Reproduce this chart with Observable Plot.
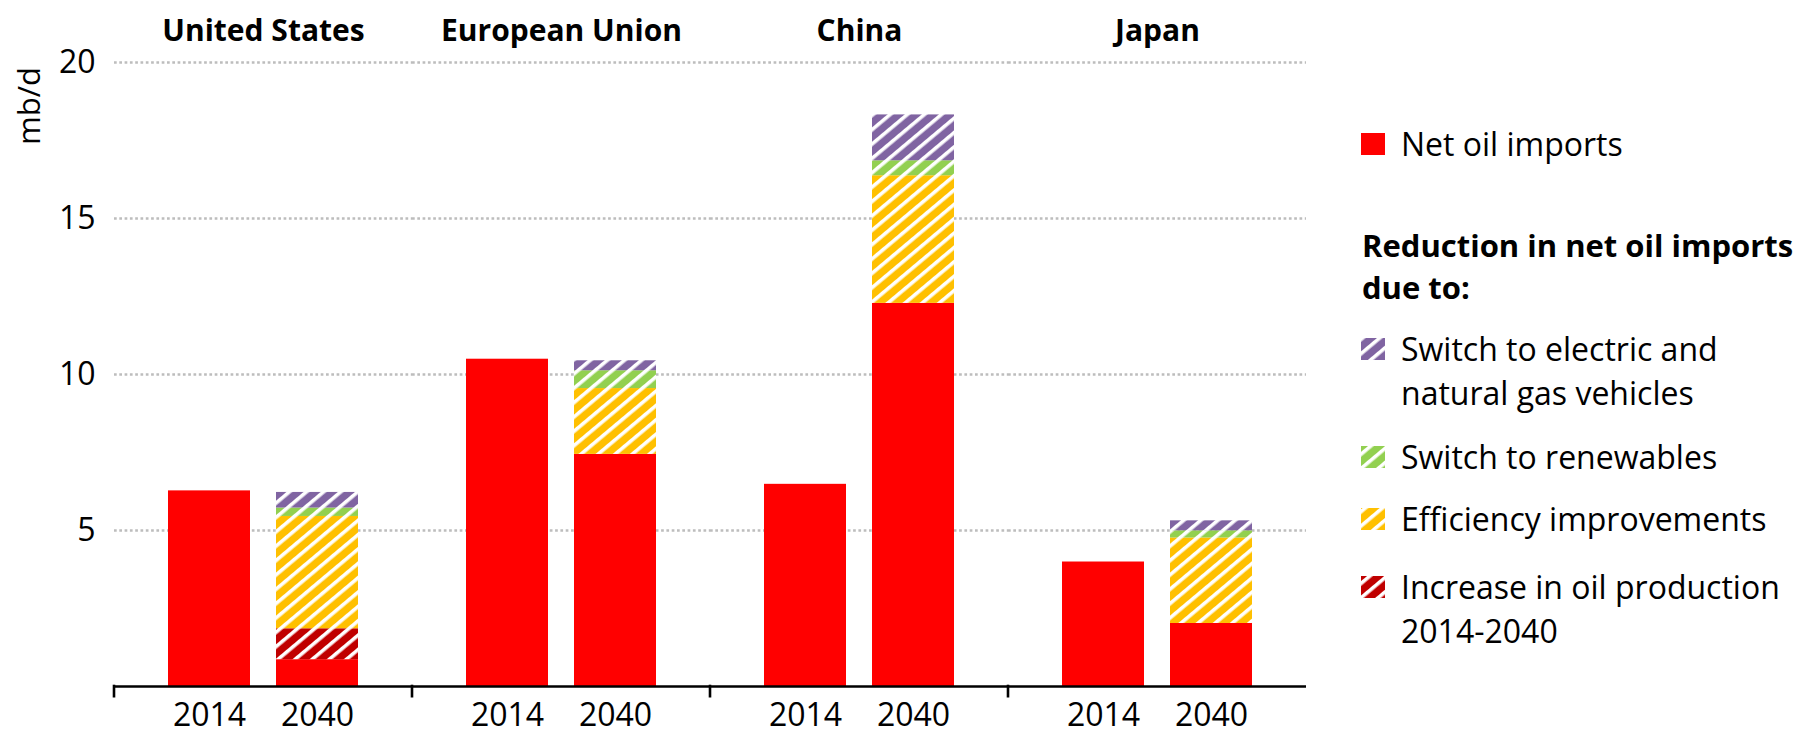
<!DOCTYPE html>
<html>
<head>
<meta charset="utf-8">
<script src="https://cdn.jsdelivr.net/npm/d3@7"></script>
<script src="https://cdn.jsdelivr.net/npm/@observablehq/plot@0.6"></script>
<style>
  html, body { margin: 0; padding: 0; background: #fff; }
  #wrap { position: relative; width: 1796px; height: 734px; overflow: hidden; }
  #chart { position: absolute; left: 0; top: 0; }
  #legend { position: absolute; left: 0; top: 0; }
</style>
</head>
<body>
<svg width="0" height="0" style="position:absolute" id="defs"></svg>
<div id="wrap"><div id="chart"></div><svg id="legend" width="1796" height="734" style="pointer-events:none"></svg></div>
<script>
// ---- data ----
const countries = ["United States", "European Union", "China", "Japan"];
const years = ["2014", "2040"];
const components = [
  "Net oil imports",
  "Increase in oil production 2014-2040",
  "Efficiency improvements",
  "Switch to renewables",
  "Switch to electric and natural gas vehicles"
];
const netImports2014 = [6.27, 10.49, 6.48, 3.99];
const netImports2040 = [0.86, 7.44, 12.28, 2.02];
const oilProduction  = [0.99, 0, 0, 0];
const efficiency     = [3.60, 2.11, 4.09, 2.74];
const renewables     = [0.27, 0.57, 0.48, 0.23];
const electricGas    = [0.50, 0.32, 1.47, 0.32];
const yTicks = [5, 10, 15, 20];
const yLabel = "mb/d";
const legendHeader = ["Reduction in net oil imports", "due to:"];
const legendLabels = {
  "Net oil imports": ["Net oil imports"],
  "Switch to electric and natural gas vehicles": ["Switch to electric and", "natural gas vehicles"],
  "Switch to renewables": ["Switch to renewables"],
  "Efficiency improvements": ["Efficiency improvements"],
  "Increase in oil production 2014-2040": ["Increase in oil production", "2014-2040"]
};

// ---- styles ----
const baseColors = ["#FF0000", "#C00000", "#FFC000", "#92D050", "#8064A2"];
const FONT = "'Open Sans', Carlito, Calibri, sans-serif";

// hatch patterns
const defs = d3.select("#defs").append("defs");
const fills = components.map((c, i) => {
  if (i === 0) return baseColors[0];
  const id = "hatch" + i;
  const p = defs.append("pattern").attr("id", id)
    .attr("patternUnits", "userSpaceOnUse")
    .attr("width", 11).attr("height", 11)
    .attr("patternTransform", "rotate(50)");
  p.append("rect").attr("width", 11).attr("height", 11).attr("fill", baseColors[i]);
  p.append("rect").attr("width", 3.6).attr("height", 11).attr("fill", "white");
  return `url(#${id})`;
});

// table
const series = [
  [netImports2014, netImports2040],
  [null, oilProduction],
  [null, efficiency],
  [null, renewables],
  [null, electricGas]
];
const rows = [];
countries.forEach((c, ci) => {
  years.forEach((y, yi) => {
    series.forEach((s, si) => {
      if (s[yi]) rows.push({country: c, year: y, component: components[si], value: s[yi][ci]});
    });
  });
});

const plot = Plot.plot({
  width: 1330,
  height: 734,
  marginLeft: 114,
  marginRight: 24,
  marginTop: 62,
  marginBottom: 48,
  style: {fontFamily: FONT, fontSize: "32px", color: "black", background: "white"},
  fx: {domain: countries, padding: 0, label: null},
  x: {domain: years, paddingInner: 0.24, paddingOuter: 0.49, label: null},
  y: {domain: [0, 20], label: null},
  color: {domain: components, range: fills},
  marks: [
    Plot.ruleY(yTicks, {stroke: "#bdbdbd", strokeWidth: 2.6, strokeDasharray: "2.7,2.6"}),
    Plot.barY(rows, {fx: "country", x: "year", y: "value", fill: "component"}),
    Plot.ruleY([0], {stroke: "black", strokeWidth: 2.6}),
    Plot.axisY({ticks: yTicks, tickSize: 0, tickPadding: 19, label: null, fontSize: 32}),
    Plot.axisX({tickSize: 0, tickPadding: 17, label: null, fontSize: 32}),
    Plot.axisFx({anchor: "top", tickSize: 0, tickPadding: 22, label: null, fontSize: 30, fontWeight: "bold"})
  ]
});
document.getElementById("chart").appendChild(plot);

// separator ticks on the category axis and y label
const svg = d3.select(plot);
const fx = plot.scale("fx");
const yS = plot.scale("y");
const y0 = yS.apply(0);
const edges = countries.map(c => fx.apply(c));
svg.append("g").selectAll("line").data(edges).join("line")
  .attr("x1", d => d).attr("x2", d => d)
  .attr("y1", y0 - 1.3).attr("y2", y0 + 11.5)
  .attr("stroke", "black").attr("stroke-width", 2.6);
svg.append("text")
  .attr("transform", `translate(40,${yS.apply(20) + 5}) rotate(-90)`)
  .attr("text-anchor", "end")
  .attr("font-family", FONT).attr("font-size", 31)
  .text(yLabel);

// ---- legend ----
const lg = d3.select("#legend").attr("font-family", FONT).attr("font-size", 32);
const items = [
  {comp: components[0], y: 133},
  {comp: components[4], y: 338},
  {comp: components[3], y: 446},
  {comp: components[2], y: 508},
  {comp: components[1], y: 576}
];
const sx = 1361, tx = 1401;
items.forEach(it => {
  const i = components.indexOf(it.comp);
  lg.append("rect").attr("x", sx).attr("y", it.y).attr("width", 24).attr("height", 22).attr("fill", fills[i]);
  legendLabels[it.comp].forEach((line, li) => {
    lg.append("text").attr("x", tx).attr("y", it.y + 22.5 + li * 44).text(line);
  });
});
legendHeader.forEach((line, li) => {
  lg.append("text").attr("x", 1362).attr("y", 257 + li * 42)
    .attr("font-weight", "bold").attr("font-size", 31).text(line);
});
</script>
</body>
</html>
